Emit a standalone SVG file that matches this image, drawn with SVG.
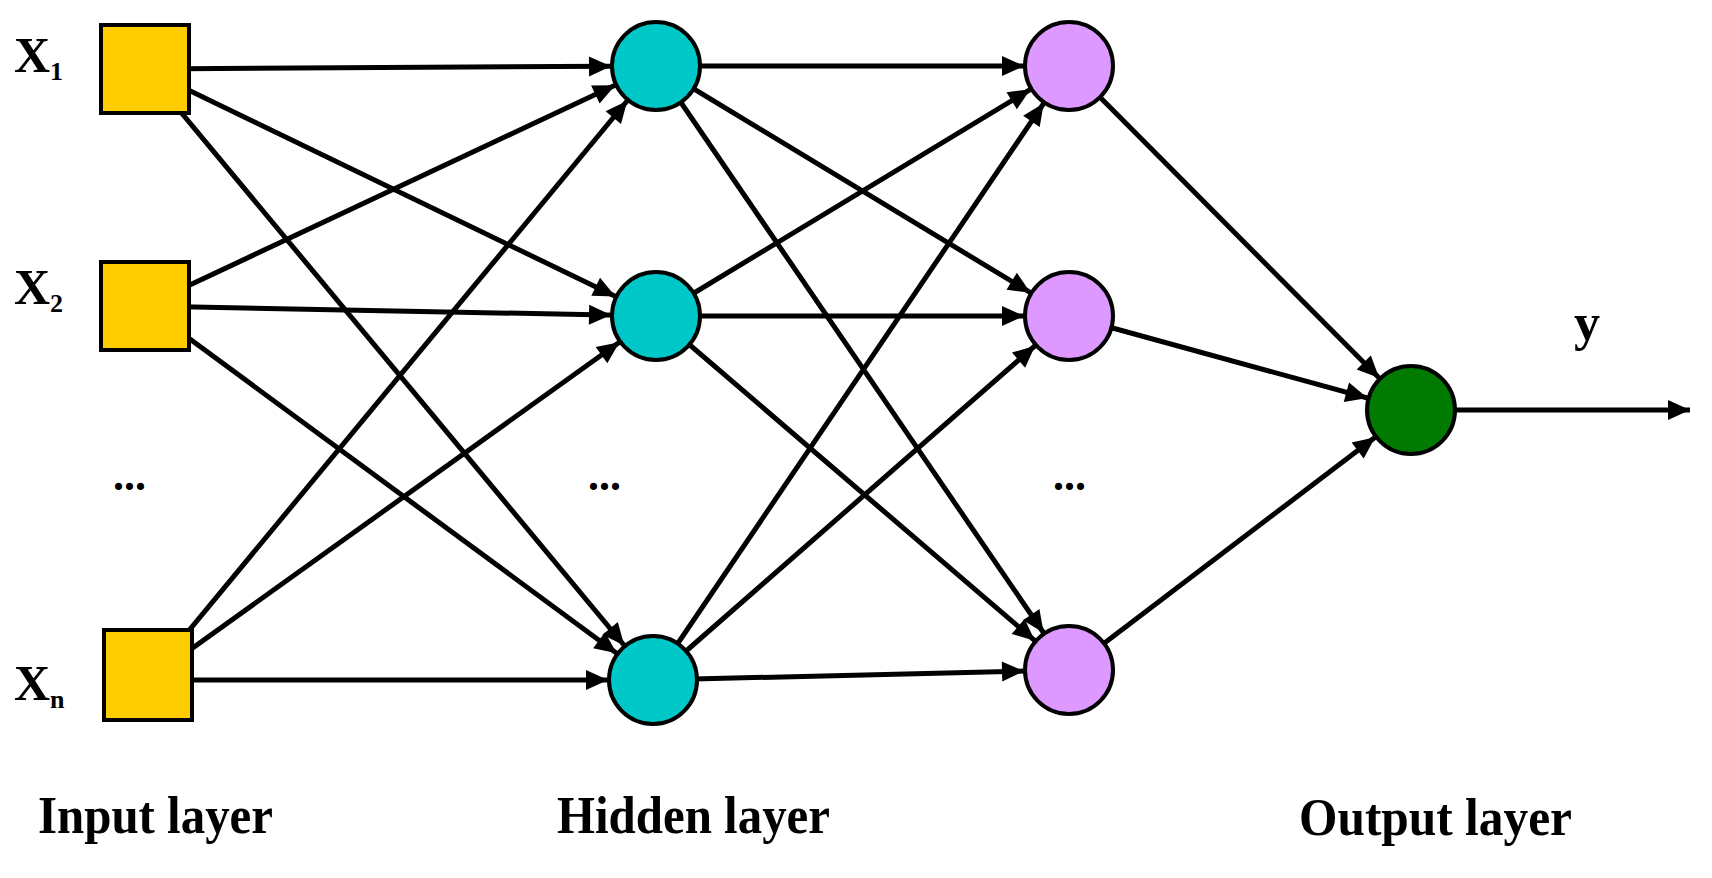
<svg xmlns="http://www.w3.org/2000/svg" width="1712" height="878" viewBox="0 0 1712 878">
<style>
.c{stroke:#000;stroke-width:5;fill:none}
.n{stroke:#000;stroke-width:4}
.t{font-family:"Liberation Serif",serif;font-weight:bold;fill:#000}
</style>
<defs>
<marker id="a" markerUnits="userSpaceOnUse" markerWidth="10" markerHeight="10" refX="45" refY="0" orient="auto" overflow="visible"><path d="M-22,-10 L0,0 L-22,10 z" fill="#000"/></marker>
<marker id="e" markerUnits="userSpaceOnUse" markerWidth="10" markerHeight="10" refX="0" refY="0" orient="auto" overflow="visible"><path d="M-22,-10 L0,0 L-22,10 z" fill="#000"/></marker>
</defs>
<rect width="1712" height="878" fill="#fff"/>
<g id="connectors" class="c" marker-end="url(#a)">
<line x1="145" y1="69" x2="656" y2="66"/><line x1="145" y1="69" x2="656" y2="316"/><line x1="145" y1="69" x2="653" y2="680"/>
<line x1="145" y1="306" x2="656" y2="66"/><line x1="145" y1="306" x2="656" y2="316"/><line x1="145" y1="306" x2="653" y2="680"/>
<line x1="148" y1="680" x2="656" y2="66"/><line x1="148" y1="680" x2="656" y2="316"/><line x1="148" y1="680" x2="653" y2="680"/>
<line x1="656" y1="66" x2="1069" y2="66"/><line x1="656" y1="66" x2="1069" y2="316"/><line x1="656" y1="66" x2="1069" y2="670"/>
<line x1="656" y1="316" x2="1069" y2="66"/><line x1="656" y1="316" x2="1069" y2="316"/><line x1="656" y1="316" x2="1069" y2="670"/>
<line x1="653" y1="680" x2="1069" y2="66"/><line x1="653" y1="680" x2="1069" y2="316"/><line x1="653" y1="680" x2="1069" y2="670"/>
<line x1="1069" y1="66" x2="1411" y2="410"/><line x1="1069" y1="316" x2="1411" y2="410"/><line x1="1069" y1="670" x2="1411" y2="410"/>
<line x1="1411" y1="410" x2="1690" y2="410" marker-end="url(#e)"/>
</g>
<g id="x1"><rect class="n" x="101" y="25" width="88" height="88" fill="#FFCC00"/><text class="t" x="14" y="72" font-size="50">X<tspan font-size="26" dy="8">1</tspan></text></g>
<g id="x2"><rect class="n" x="101" y="262" width="88" height="88" fill="#FFCC00"/><text class="t" x="14" y="304" font-size="50">X<tspan font-size="26" dy="8">2</tspan></text></g>
<g id="xn"><rect class="n" x="104" y="630" width="88" height="90" fill="#FFCC00"/><text class="t" x="14" y="700" font-size="50">X<tspan font-size="26" dy="8">n</tspan></text></g>
<g id="h1"><circle class="n" cx="656" cy="66" r="44" fill="#00C8C8"/></g>
<g id="h2"><circle class="n" cx="656" cy="316" r="44" fill="#00C8C8"/></g>
<g id="h3"><circle class="n" cx="653" cy="680" r="44" fill="#00C8C8"/></g>
<g id="p1"><circle class="n" cx="1069" cy="66" r="44" fill="#DD99FF"/></g>
<g id="p2"><circle class="n" cx="1069" cy="316" r="44" fill="#DD99FF"/></g>
<g id="p3"><circle class="n" cx="1069" cy="670" r="44" fill="#DD99FF"/></g>
<g id="out"><circle class="n" cx="1411" cy="410" r="44" fill="#007A00"/></g>
<text class="t" x="1574" y="340" font-size="52">y</text>
<text class="t" x="113" y="490" font-size="44">...</text>
<text class="t" x="588" y="490" font-size="44">...</text>
<text class="t" x="1053" y="490" font-size="44">...</text>
<text class="t" x="38" y="833" font-size="52" textLength="235" lengthAdjust="spacingAndGlyphs">Input layer</text>
<text class="t" x="557" y="833" font-size="52" textLength="273" lengthAdjust="spacingAndGlyphs">Hidden layer</text>
<text class="t" x="1299" y="835" font-size="52" textLength="273" lengthAdjust="spacingAndGlyphs">Output layer</text>
</svg>
